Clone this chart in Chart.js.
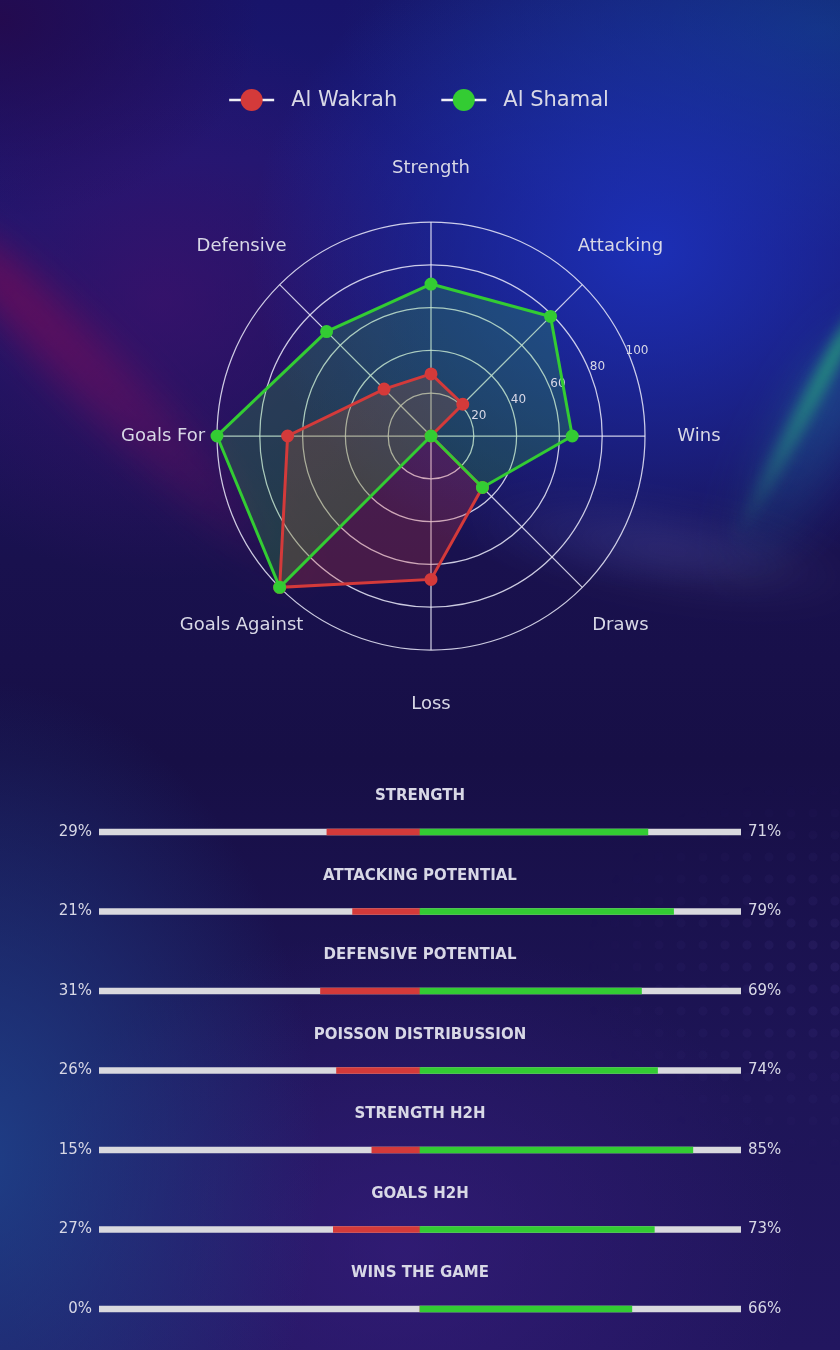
<!DOCTYPE html>
<html>
<head>
<meta charset="utf-8">
<script src="https://cdn.jsdelivr.net/npm/chart.js@4.4.1/dist/chart.umd.min.js"></script>
<style>
html,body{margin:0;padding:0;}
body{width:840px;height:1350px;position:relative;overflow:hidden;background:#18104c;font-family:'DejaVu Sans',sans-serif;}
#bg{position:absolute;left:0;top:0;width:840px;height:1350px;overflow:hidden;
background:
 radial-gradient(ellipse 400px 340px at 650px 250px, rgba(28,50,190,0.9), rgba(28,50,190,0) 100%),
 radial-gradient(ellipse 480px 220px at 820px 30px, rgba(16,64,130,0.75), rgba(16,64,130,0) 100%),
 radial-gradient(ellipse 260px 200px at 0px 20px, rgba(38,8,72,0.8), rgba(38,8,72,0) 100%),
 radial-gradient(ellipse 300px 280px at 160px 300px, rgba(70,16,110,0.6), rgba(70,16,110,0) 100%),
 radial-gradient(ellipse 340px 480px at -20px 1160px, rgba(30,72,145,0.8), rgba(30,72,145,0) 100%),
 radial-gradient(ellipse 400px 320px at 400px 1250px, rgba(58,30,130,0.6), rgba(58,30,130,0) 100%),
 linear-gradient(180deg, #18146a 0px, #1a1872 160px, #19114e 560px, #170f46 760px, #1e1558 1100px, #22165f 1350px);}
.streak{position:absolute;transform-origin:0 50%;}
#mag{left:-80px;top:170px;width:560px;height:60px;transform:rotate(45deg);
 background:linear-gradient(90deg, rgba(130,10,85,0.0) 0%, rgba(130,10,85,0.65) 18%, rgba(120,15,95,0.45) 50%, rgba(110,25,110,0) 100%);
 filter:blur(18px);border-radius:50%;}
#grn{left:870px;top:280px;width:290px;height:16px;transform:rotate(118deg);
 background:linear-gradient(90deg, rgba(40,190,120,0.0) 0%, rgba(40,190,120,0.75) 20%, rgba(40,170,130,0.5) 60%, rgba(40,150,140,0) 100%);
 filter:blur(7px);border-radius:50%;}
#grn2{left:880px;top:270px;width:320px;height:70px;transform:rotate(118deg);
 background:linear-gradient(90deg, rgba(30,120,150,0.0) 0%, rgba(30,120,150,0.4) 30%, rgba(30,100,150,0) 100%);
 filter:blur(20px);border-radius:50%;}
#lav{left:470px;top:470px;width:400px;height:90px;transform:rotate(10deg);
 background:radial-gradient(ellipse at center, rgba(150,150,230,0.18), rgba(150,150,230,0) 70%);
 filter:blur(16px);}
#dots{position:absolute;left:560px;top:780px;width:280px;height:420px;
 background-image:radial-gradient(circle, rgba(110,90,190,0.12) 0 4px, rgba(0,0,0,0) 5px);
 background-size:22px 22px;
 -webkit-mask-image:radial-gradient(ellipse 260px 200px at 100% 45%, #000, rgba(0,0,0,0) 100%);
 mask-image:radial-gradient(ellipse 260px 200px at 100% 45%, #000, rgba(0,0,0,0) 100%);}
#radarBox{position:absolute;left:0;top:0;width:840px;height:740px;}
#barBox{position:absolute;left:0;top:740px;width:840px;height:610px;}
</style>
</head>
<body>
<div id="bg">
  <div class="streak" id="mag"></div>
  <div class="streak" id="grn2"></div>
  <div class="streak" id="grn"></div>
  <div class="streak" id="lav"></div>
  <div id="dots"></div>
</div>
<div id="radarBox"><canvas id="radar"></canvas></div>
<div id="barBox"><canvas id="bars"></canvas></div>
<script>
// ---- data ----
const teamNames = ['Al Wakrah', 'Al Shamal'];
const radarLabels = ['Strength', 'Attacking', 'Wins', 'Draws', 'Loss', 'Goals Against', 'Goals For', 'Defensive'];
const wakrahValues = [29, 21, 0, 34, 67, 100, 67, 31];
const shamalValues = [71, 79, 66, 34, 0, 100, 100, 69];
const radarTicks = [20, 40, 60, 80, 100];

const barCategories = ['STRENGTH', 'ATTACKING POTENTIAL', 'DEFENSIVE POTENTIAL', 'POISSON DISTRIBUSSION', 'STRENGTH H2H', 'GOALS H2H', 'WINS THE GAME'];
const wakrahPct = [29, 21, 31, 26, 15, 27, 0];
const shamalPct = [71, 79, 69, 74, 85, 73, 66];
const barRange = [-100, 100];

// ---- styles ----
const RED = '#d43a3a';
const GREEN = '#33cc33';
const TEXT = '#d8d8e6';
const TRACK = '#d9d9de';
const GRID = 'rgba(235,235,250,0.85)';
const FONT = '"DejaVu Sans", sans-serif';
Chart.defaults.font.family = FONT;

const radarDecor = {
  id: 'radarDecor',
  beforeDatasetsDraw(chart) {
    const s = chart.scales.r, ctx = chart.ctx;
    ctx.save();
    ctx.font = '12px ' + FONT;
    ctx.fillStyle = TEXT;
    ctx.textAlign = 'center';
    ctx.textBaseline = 'middle';
    const a = 22.5 * Math.PI / 180;
    radarTicks.forEach(v => {
      const d = s.getDistanceFromCenterForValue(v) + 9;
      ctx.fillText(String(v), s.xCenter + d * Math.cos(a), s.yCenter - d * Math.sin(a));
    });
    ctx.restore();
  },
  afterDraw(chart) {
    const s = chart.scales.r, ctx = chart.ctx;
    ctx.save();
    ctx.font = '18px ' + FONT;
    ctx.fillStyle = TEXT;
    ctx.textAlign = 'center';
    ctx.textBaseline = 'middle';
    chart.data.labels.forEach((l, i) => {
      const p = s.getPointPosition(i, s.drawingArea * 1.252);
      ctx.fillText(l, p.x, p.y);
    });
    // legend
    ctx.font = '21px ' + FONT;
    const ds = chart.data.datasets;
    const lineW = 45, gapT = 17, gapI = 44;
    const widths = ds.map(d => ctx.measureText(d.label).width);
    let total = 0;
    widths.forEach((w, i) => { total += lineW + gapT + w + (i < widths.length - 1 ? gapI : 0); });
    let x = 419 - total / 2;
    const y = 100;
    ctx.textAlign = 'left';
    ds.forEach((d, i) => {
      ctx.strokeStyle = '#f0f0f5';
      ctx.lineWidth = 2.5;
      ctx.beginPath(); ctx.moveTo(x, y); ctx.lineTo(x + lineW, y); ctx.stroke();
      ctx.fillStyle = d.borderColor;
      ctx.beginPath(); ctx.arc(x + lineW / 2, y, 11, 0, Math.PI * 2); ctx.fill();
      ctx.fillStyle = TEXT;
      ctx.fillText(d.label, x + lineW + gapT, y + 1);
      x += lineW + gapT + widths[i] + gapI;
    });
    ctx.restore();
  }
};

new Chart(document.getElementById('radar'), {
  type: 'radar',
  data: {
    labels: radarLabels,
    datasets: [
      { label: teamNames[0], data: wakrahValues, borderColor: RED, backgroundColor: 'rgba(212,58,58,0.25)',
        pointBackgroundColor: RED, pointBorderColor: RED, pointRadius: 5, borderWidth: 3, fill: true, order: 1 },
      { label: teamNames[1], data: shamalValues, borderColor: GREEN, backgroundColor: 'rgba(51,204,51,0.22)',
        pointBackgroundColor: GREEN, pointBorderColor: GREEN, pointRadius: 5, borderWidth: 3, fill: true, order: 0 }
    ]
  },
  options: {
    responsive: true, maintainAspectRatio: false, animation: false,
    layout: { padding: { left: 217, right: 195, top: 222, bottom: 90 } },
    plugins: { legend: { display: false }, tooltip: { enabled: false }, filler: { drawTime: 'beforeDatasetsDraw' } },
    elements: { line: { tension: 0 } },
    scales: {
      r: {
        min: 0, max: 100,
        ticks: { stepSize: 20, display: false },
        grid: { color: GRID, lineWidth: 1.25, circular: true },
        angleLines: { color: GRID, lineWidth: 1.25 },
        pointLabels: { display: false }
      }
    }
  },
  plugins: [radarDecor]
});

const barText = {
  id: 'barText',
  afterDatasetsDraw(chart) {
    const ctx = chart.ctx, ys = chart.scales.y, xs = chart.scales.x, ca = chart.chartArea;
    ctx.save();
    ctx.fillStyle = TEXT;
    ctx.textBaseline = 'middle';
    chart.data.labels.forEach((lab, i) => {
      const y = ys.getPixelForValue(i);
      ctx.font = '15px ' + FONT;
      ctx.textAlign = 'right';
      ctx.fillText(wakrahPct[i] + '%', ca.left - 7, y);
      ctx.textAlign = 'left';
      ctx.fillText(shamalPct[i] + '%', ca.right + 7, y);
      ctx.font = 'bold 15px ' + FONT;
      ctx.textAlign = 'center';
      ctx.fillText(lab, xs.getPixelForValue(0), y - 35.5);
    });
    ctx.restore();
  }
};

new Chart(document.getElementById('bars'), {
  type: 'bar',
  data: {
    labels: barCategories,
    datasets: [
      { data: barCategories.map(() => barRange.slice()), backgroundColor: TRACK, grouped: false, order: 2 },
      { data: wakrahPct.map(v => [-v, 0]), backgroundColor: RED, grouped: false, order: 1 },
      { data: shamalPct.map(v => [0, v]), backgroundColor: GREEN, grouped: false, order: 0 }
    ]
  },
  options: {
    indexAxis: 'y', responsive: true, maintainAspectRatio: false, animation: false,
    layout: { padding: { left: 99, right: 99, top: 52.25, bottom: 1.25 } },
    datasets: { bar: { barThickness: 6, borderWidth: 0, borderSkipped: false } },
    scales: { x: { display: false, min: -100, max: 100 }, y: { display: false } },
    plugins: { legend: { display: false }, tooltip: { enabled: false } }
  },
  plugins: [barText]
});
</script>
</body>
</html>
